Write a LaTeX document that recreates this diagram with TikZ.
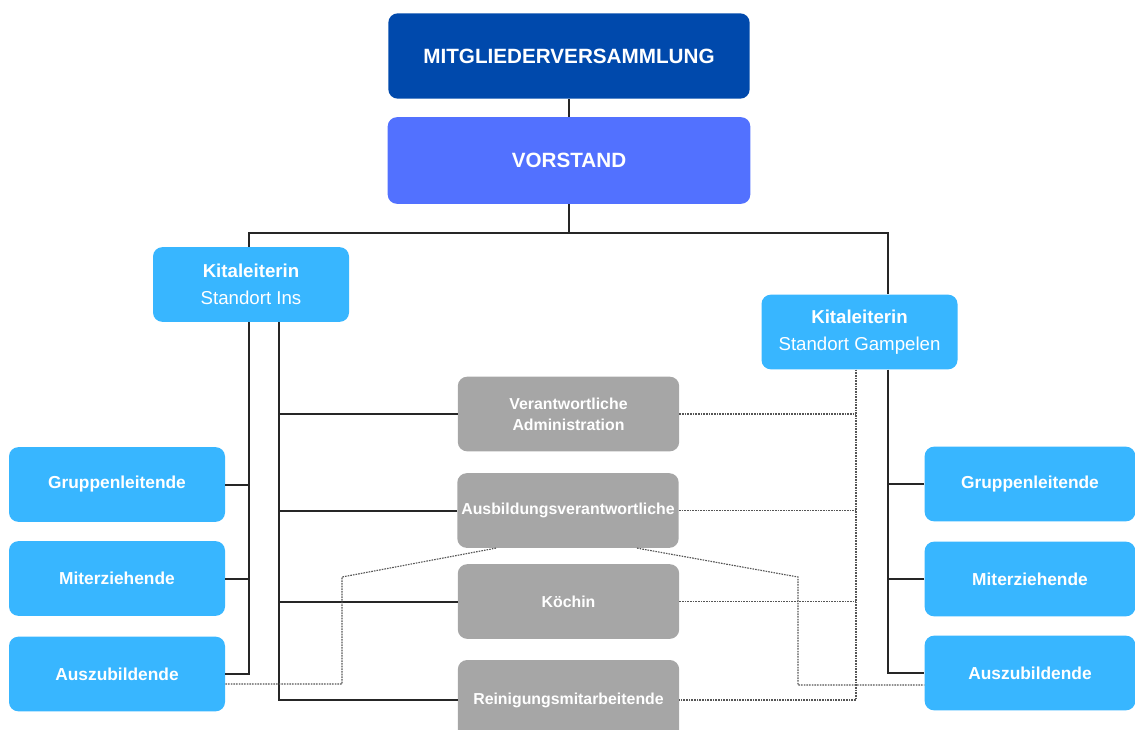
\documentclass[tikz,border=0pt]{standalone}
\usepackage{fontspec}
\setmainfont{Liberation Sans}
\usetikzlibrary{calc}
\definecolor{mvblue}{HTML}{0049AC}
\definecolor{vsblue}{HTML}{5271FF}
\definecolor{kitablue}{HTML}{38B6FF}
\definecolor{staffgray}{HTML}{A6A6A6}
\definecolor{dotgray}{HTML}{555555}
\begin{document}
\begin{tikzpicture}[x=0.75pt,y=-0.75pt,
    box/.style={rounded corners=7pt,text=white,align=center,inner sep=0pt},
    mvbox/.style={box,fill=mvblue,minimum width=271pt,minimum height=64pt,font=\bfseries\fontsize{15.5}{18}\selectfont},
    vsbox/.style={box,fill=vsblue,minimum width=272pt,minimum height=65pt,font=\bfseries\fontsize{15.5}{18}\selectfont},
    kitabox/.style={box,fill=kitablue,minimum width=147pt,minimum height=56pt,font=\fontsize{14}{20}\selectfont},
    teambox/.style={box,fill=kitablue,minimum width=162pt,minimum height=56pt,font=\bfseries\fontsize{13}{16}\selectfont},
    staffbox/.style={box,fill=staffgray,minimum width=166pt,minimum height=56pt,font=\bfseries\fontsize{11.9}{16}\selectfont},
    line/.style={draw=black!85,line width=1.5pt},
    dot/.style={draw=dotgray,line width=0.85pt,dash pattern=on 1.2pt off 0.8pt}]
    \useasboundingbox(0,0)rectangle(1135,729);
    % leitung
    \node[mvbox](mv)at(569,56){MITGLIEDERVERSAMMLUNG};
    \node[vsbox](vs)at(569,160.5){VORSTAND};
    \node[kitabox](ins)at(251,284.5){\textbf{Kitaleiterin}\\Standort Ins};
    \node[kitabox](gam)at(859.5,332){\textbf{Kitaleiterin}\\Standort Gampelen};
    % gruppen links und rechts
    \node[teambox](gl1)at(117,484.5){Gruppenleitende};
    \node[teambox](mz1)at(117,578.5){Miterziehende};
    \node[teambox](az1)at(117,674){Auszubildende};
    \node[teambox,minimum width=158pt](gl2)at(1030,484){Gruppenleitende};
    \node[teambox,minimum width=158pt](mz2)at(1030,579){Miterziehende};
    \node[teambox,minimum width=158pt](az2)at(1030,673){Auszubildende};
    % mitarbeitende
    \node[staffbox](adm)at(568.5,414){Verantwortliche\\Administration};
    \node[staffbox](aus)at(568,510.5){Ausbildungsverantwortliche};
    \node[staffbox](koe)at(568.5,601.5){Köchin};
    \node[staffbox,minimum height=60pt](rei)at(568.5,700){Reinigungsmitarbeitende};
    % linien
    \coordinate(busL)at(249,233);
    \coordinate(busR)at(888,233);
    \coordinate(colB)at(279,0);
    \coordinate(colD)at(856,0);
    \draw[line](mv.south)--(vs.north);
    \draw[line](vs.south)--(vs.south|-busL);
    \draw[line](ins.north-|busL)--(busL)--(busR)--(gam.north-|busR);
    \draw[line](ins.south-|busL)|-(az1.east);
    \foreach \n in {gl1,mz1}
        \draw[line](\n.east)--(\n.east-|busL);
    \draw[line](ins.south-|colB)|-(rei.west);
    \foreach \n in {adm,aus,koe}
        \draw[line](\n.west)--(\n.west-|colB);
    \draw[line](gam.south-|busR)|-(az2.west);
    \foreach \n in {gl2,mz2}
        \draw[line](\n.west)--(\n.west-|busR);
    % gepunktet
    \draw[dot](gam.south-|colD)|-(rei.east);
    \foreach \n in {adm,aus,koe}
        \draw[dot](\n.east)--(\n.east-|colD);
    \coordinate(kinkL)at(342,577);
    \coordinate(dropL)at(342,684);
    \coordinate(kinkR)at(798,577);
    \coordinate(dropR)at(798,685);
    \draw[dot]($(aus.south)+(-72,0)$)--(kinkL)--(dropL)--(dropL-|az1.east);
    \draw[dot]($(aus.south)+(69,0)$)--(kinkR)--(dropR)--(dropR-|az2.west);
\end{tikzpicture}
\end{document}
